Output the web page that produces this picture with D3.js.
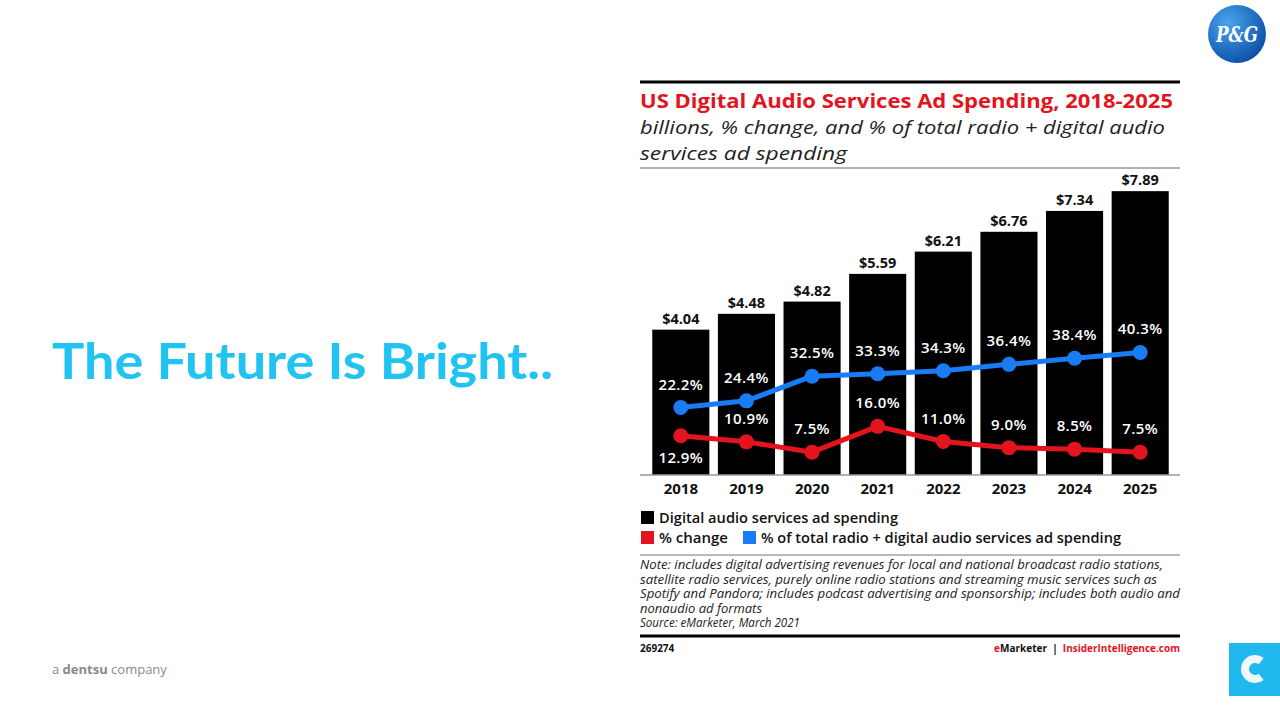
<!DOCTYPE html>
<html>
<head>
<meta charset="utf-8">
<script src="https://cdn.jsdelivr.net/npm/d3@7"></script>
<style>
  body { margin: 0; background: #fff; }
  svg { display: block; font-family: "Open Sans", "DejaVu Sans", sans-serif; }
</style>
</head>
<body>
<script>
// chart data
const years = ["2018", "2019", "2020", "2021", "2022", "2023", "2024", "2025"];
const spending = [4.04, 4.48, 4.82, 5.59, 6.21, 6.76, 7.34, 7.89];
const pctChange = [12.9, 10.9, 7.5, 16.0, 11.0, 9.0, 8.5, 7.5];
const pctOfTotal = [22.2, 24.4, 32.5, 33.3, 34.3, 36.4, 38.4, 40.3];
const noteLines = [
  "Note: includes digital advertising revenues for local and national broadcast radio stations,",
  "satellite radio services, purely online radio stations and streaming music services such as",
  "Spotify and Pandora; includes podcast advertising and sponsorship; includes both audio and",
  "nonaudio ad formats",
  "Source: eMarketer, March 2021"
];
const noteWidths = [523, 517, 540, 122, 160];

const W = 1280, H = 720;
const svg = d3.select("body").append("svg").attr("width", W).attr("height", H);

const RED = "#e3141e", BLUE = "#1a7cf5", CYAN = "#21c3f3";

// left headline
svg.append("text")
  .attr("x", 52).attr("y", 379)
  .attr("textLength", 501).attr("lengthAdjust", "spacingAndGlyphs")
  .style("font-family", "Lato, sans-serif")
  .style("font-weight", "bold").style("font-size", "50px")
  .style("fill", CYAN)
  .text("The Future Is Bright..");

svg.append("text")
  .attr("x", 52).attr("y", 674)
  .style("font-size", "13px").style("fill", "#8a8a8a")
  .html('a <tspan style="font-weight:bold">dentsu</tspan> company');

// P&G logo
const pg = svg.append("g").attr("transform", "translate(1237,34)");
const grad = svg.append("defs").append("radialGradient").attr("id", "pgGrad")
  .attr("cx", "35%").attr("cy", "30%").attr("r", "75%");
grad.append("stop").attr("offset", "0%").attr("stop-color", "#4aa3ee");
grad.append("stop").attr("offset", "100%").attr("stop-color", "#0b4fa8");
pg.append("circle").attr("r", 29).style("fill", "url(#pgGrad)");
pg.append("text").attr("text-anchor", "middle").attr("y", 8)
  .style("font-family", "'DejaVu Serif', serif").style("font-style", "italic")
  .style("font-weight", "bold").style("font-size", "22px").style("fill", "#fff")
  .attr("textLength", 42).attr("lengthAdjust", "spacingAndGlyphs")
  .text("P&G");

// C logo
svg.append("rect").attr("x", 1229).attr("y", 643).attr("width", 51).attr("height", 53).style("fill", "#1fb9ee");
svg.append("path")
  .attr("d", d3.arc().innerRadius(6).outerRadius(14).startAngle(0.9).endAngle(2 * Math.PI - 0.9)())
  .attr("transform", "translate(1255,669) rotate(90)")
  .style("fill", "#eef8fd");

// chart frame
const cx0 = 640, cx1 = 1180;
svg.append("line").attr("x1", cx0).attr("x2", cx1).attr("y1", 82).attr("y2", 82)
  .style("stroke", "#000").style("stroke-width", 3);
svg.append("text").attr("x", 640).attr("y", 108)
  .style("font-weight", "bold").style("font-size", "19.5px").style("fill", RED)
  .attr("textLength", 533).attr("lengthAdjust", "spacingAndGlyphs")
  .text("US Digital Audio Services Ad Spending, 2018-2025");
svg.append("text").attr("x", 640).attr("y", 134)
  .style("font-style", "italic").style("font-size", "19px").style("fill", "#222")
  .attr("textLength", 525).attr("lengthAdjust", "spacingAndGlyphs")
  .text("billions, % change, and % of total radio + digital audio");
svg.append("text").attr("x", 640).attr("y", 160)
  .style("font-style", "italic").style("font-size", "19px").style("fill", "#222")
  .attr("textLength", 207).attr("lengthAdjust", "spacingAndGlyphs")
  .text("services ad spending");
svg.append("line").attr("x1", cx0).attr("x2", cx1).attr("y1", 168).attr("y2", 168)
  .style("stroke", "#999").style("stroke-width", 1.5);

// scales
const x = d3.scaleBand().domain(years).range([648, 1173]).paddingInner(0.13).paddingOuter(0.065);
const yBar = d3.scaleLinear().domain([0, 8.45]).range([475, 171]);
const yPct = d3.scaleLinear().domain([0, 100]).range([475, 171]);

const plot = svg.append("g");

plot.selectAll("rect.bar").data(spending).enter().append("rect")
  .attr("class", "bar")
  .attr("x", (d, i) => x(years[i]))
  .attr("width", x.bandwidth())
  .attr("y", d => yBar(d))
  .attr("height", d => yBar(0) - yBar(d))
  .style("fill", "#000");

plot.selectAll("text.barLabel").data(spending).enter().append("text")
  .attr("class", "barLabel")
  .attr("x", (d, i) => x(years[i]) + x.bandwidth() / 2)
  .attr("y", d => yBar(d) - 6)
  .attr("text-anchor", "middle")
  .style("font-weight", "bold").style("font-size", "14.5px").style("fill", "#111")
  .text(d => "$" + d.toFixed(2));

// x axis
const xAxis = d3.axisBottom(x).tickSize(0).tickPadding(8);
const ax = svg.append("g").attr("transform", "translate(0,475)").call(xAxis);
ax.select(".domain").attr("d", `M${cx0},0H${cx1}`).style("stroke", "#999").style("stroke-width", 1.5);
ax.selectAll("text").style("font-family", "'Open Sans', sans-serif")
  .style("font-weight", "bold").style("font-size", "15px").style("fill", "#111");

// lines
const cxp = (d, i) => x(years[i]) + x.bandwidth() / 2;
function drawSeries(vals, color, labelBelow) {
  const line = d3.line().x(cxp).y(d => yPct(d));
  plot.append("path").datum(vals).attr("d", line)
    .style("fill", "none").style("stroke", color).style("stroke-width", 5)
    .style("stroke-linejoin", "round");
  plot.selectAll(null).data(vals).enter().append("circle")
    .attr("cx", cxp).attr("cy", d => yPct(d)).attr("r", 7.5).style("fill", color);
  plot.selectAll(null).data(vals).enter().append("text")
    .attr("x", cxp)
    .attr("y", (d, i) => labelBelow(i) ? yPct(d) + 27 : yPct(d) - 18)
    .attr("text-anchor", "middle")
    .style("font-weight", "600").style("font-size", "15px").style("fill", "#fff")
    .style("letter-spacing", "0.4px")
    .text(d => d.toFixed(1) + "%");
}
drawSeries(pctOfTotal, BLUE, () => false);
drawSeries(pctChange, RED, i => i === 0);

// legend
const leg = svg.append("g").style("font-size", "14.5px").style("font-weight", "600").style("fill", "#111");
const legendItems = [
  { c: "#000", t: "Digital audio services ad spending", x: 641, y: 511, w: 239 },
  { c: RED, t: "% change", x: 641, y: 531, w: 69 },
  { c: BLUE, t: "% of total radio + digital audio services ad spending", x: 743, y: 531, w: 360 }
];
legendItems.forEach(d => {
  leg.append("rect").attr("x", d.x).attr("y", d.y).attr("width", 13).attr("height", 13).style("fill", d.c);
  leg.append("text").attr("x", d.x + 18).attr("y", d.y + 12)
    .attr("textLength", d.w).attr("lengthAdjust", "spacingAndGlyphs").text(d.t);
});

svg.append("line").attr("x1", cx0).attr("x2", cx1).attr("y1", 555).attr("y2", 555)
  .style("stroke", "#777").style("stroke-width", 1);

svg.append("g").selectAll("text").data(noteLines).enter().append("text")
  .attr("x", 640).attr("y", (d, i) => 569 + i * 14.6)
  .style("font-style", "italic").style("font-size", "12px").style("fill", "#222")
  .attr("textLength", (d, i) => noteWidths[i])
  .attr("lengthAdjust", "spacingAndGlyphs")
  .text(d => d);

svg.append("line").attr("x1", cx0).attr("x2", cx1).attr("y1", 636).attr("y2", 636)
  .style("stroke", "#000").style("stroke-width", 3);
svg.append("text").attr("x", 640).attr("y", 652)
  .style("font-weight", "bold").style("font-size", "10px").style("fill", "#111")
  .text("269274");
svg.append("text").attr("x", 1180).attr("y", 652).attr("text-anchor", "end")
  .style("font-weight", "bold").style("font-size", "10px").style("fill", "#111")
  .html(`<tspan fill="${RED}">e</tspan>Marketer&#160;&#160;|&#160;&#160;<tspan fill="${RED}">InsiderIntelligence.com</tspan>`);
</script>
</body>
</html>
